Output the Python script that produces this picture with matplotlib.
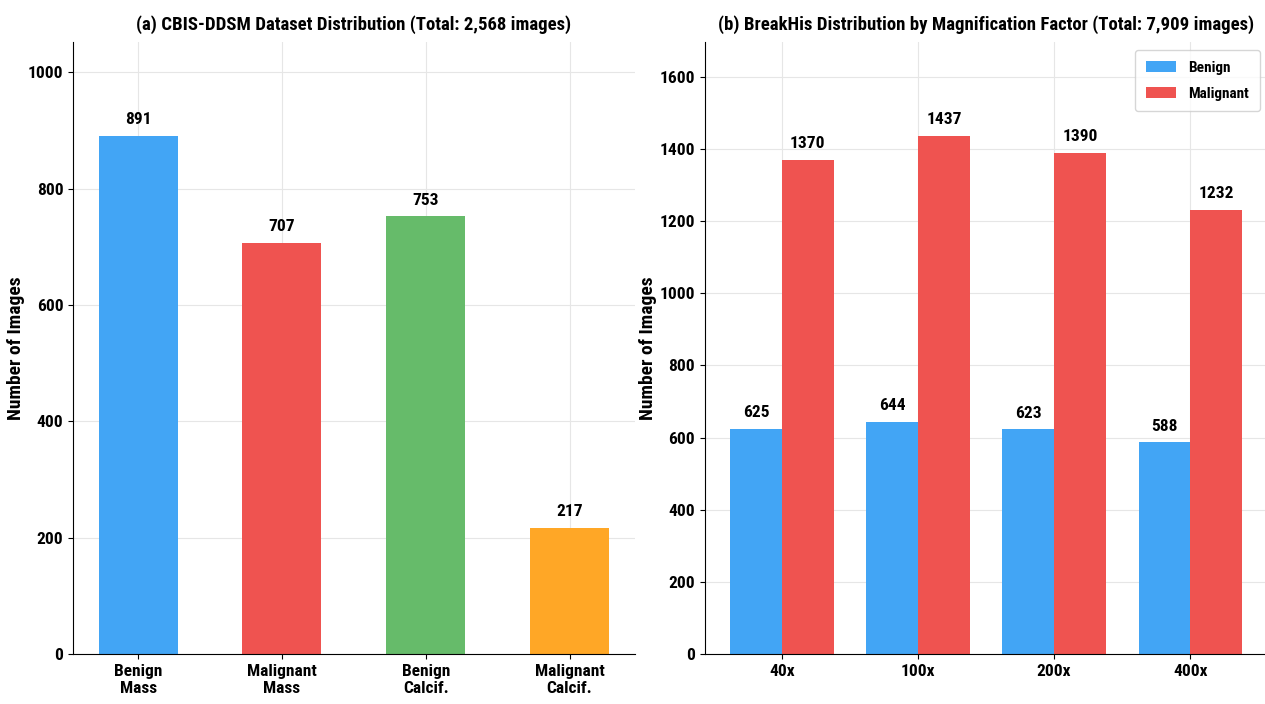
import matplotlib.pyplot as plt
import numpy as np

# CBIS-DDSM class counts
cbis_labels = ["Benign\nMass", "Malignant\nMass", "Benign\nCalcif.", "Malignant\nCalcif."]
cbis_counts = [891, 707, 753, 217]
cbis_colors = ["#42A5F5", "#EF5350", "#66BB6A", "#FFA726"]

# BreakHis counts per magnification
magnifications = ["40x", "100x", "200x", "400x"]
breakhis_benign = [625, 644, 623, 588]
breakhis_malignant = [1370, 1437, 1390, 1232]

plt.rcParams["font.family"] = ["Roboto Condensed", "DejaVu Sans"]
plt.rcParams["font.weight"] = "bold"


def style_axis(ax):
    ax.spines["top"].set_visible(False)
    ax.spines["right"].set_visible(False)
    ax.grid(True, color="#e6e6e6", linewidth=0.8)
    ax.set_axisbelow(True)
    ax.tick_params(labelsize=12.5)
    for lbl in ax.get_xticklabels() + ax.get_yticklabels():
        lbl.set_fontweight("bold")


def label_bars(ax, bars, values):
    for bar, v in zip(bars, values):
        ax.annotate(f"{v}", (bar.get_x() + bar.get_width() / 2, v),
                    xytext=(0, 6), textcoords="offset points",
                    ha="center", va="bottom", fontsize=12.5, fontweight="bold")


fig = plt.figure(figsize=(12.65, 7.04), dpi=100)
ax1 = fig.add_axes([0.0577, 0.071, 0.444, 0.869])
ax2 = fig.add_axes([0.557, 0.071, 0.445, 0.869])

x1 = np.arange(len(cbis_labels))
bars = ax1.bar(x1, cbis_counts, width=0.55, color=cbis_colors)
label_bars(ax1, bars, cbis_counts)
ax1.set_xticks(x1)
ax1.set_xticklabels(cbis_labels)
ax1.set_ylim(0, max(cbis_counts) * 1.18)
ax1.set_ylabel("Number of Images", fontsize=14, fontweight="bold", labelpad=2)
ax1.set_title("(a) CBIS-DDSM Dataset Distribution (Total: 2,568 images)",
              fontsize=13.5, fontweight="bold", pad=9)
style_axis(ax1)

x2 = np.arange(len(magnifications))
w = 0.38
b_ben = ax2.bar(x2 - w / 2, breakhis_benign, width=w, color="#42A5F5", label="Benign")
b_mal = ax2.bar(x2 + w / 2, breakhis_malignant, width=w, color="#EF5350", label="Malignant")
label_bars(ax2, b_ben, breakhis_benign)
label_bars(ax2, b_mal, breakhis_malignant)
ax2.set_xticks(x2)
ax2.set_xticklabels(magnifications)
ax2.set_ylim(0, max(breakhis_malignant) * 1.18)
ax2.set_ylabel("Number of Images", fontsize=14, fontweight="bold", labelpad=2)
ax2.set_title("(b) BreakHis Distribution by Magnification Factor (Total: 7,909 images)",
              fontsize=13.5, fontweight="bold", pad=9)
ax2.legend(loc="upper right", prop={"weight": "bold", "size": 11},
           labelspacing=0.8, borderpad=0.7)
style_axis(ax2)

fig.savefig("out.png", dpi=100)
